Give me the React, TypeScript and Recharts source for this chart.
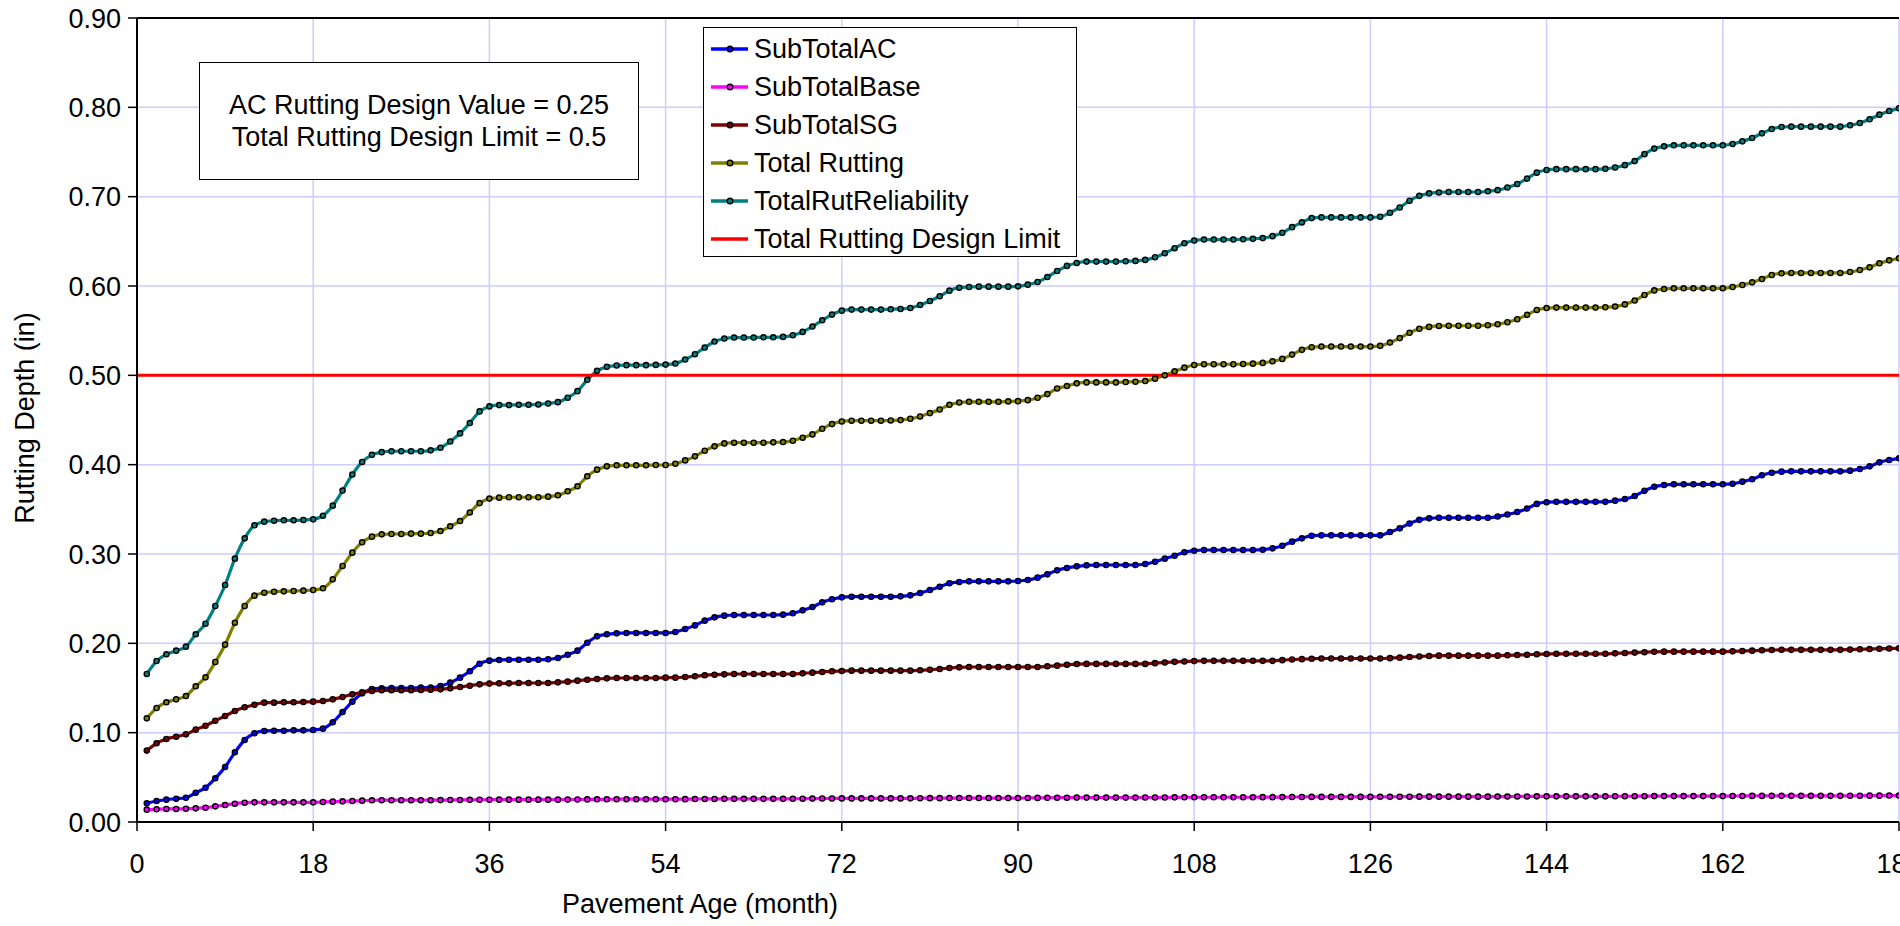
import { LineChart, Line, XAxis, YAxis, CartesianGrid, ReferenceLine } from 'recharts';

const FONT = '"Liberation Sans", Arial, Helvetica, sans-serif';

// pavement age in months (1..180), plus axis ticks
const months = Array.from({ length: 180 }, (_, i) => i + 1);
const xTicks = [0, 18, 36, 54, 72, 90, 108, 126, 144, 162, 180];
const yTicks = [0, 0.1, 0.2, 0.3, 0.4, 0.5, 0.6, 0.7, 0.8, 0.9];

const designLimit = 0.5;

// one row per year (12 months)
const subTotalAC = [
  0.0209, 0.0235, 0.025, 0.0261, 0.0272, 0.0328, 0.0384, 0.0489, 0.0616, 0.078, 0.0918, 0.0993,
  0.1019, 0.1022, 0.1022, 0.1026, 0.1026, 0.103, 0.1045, 0.1116, 0.1231, 0.1347, 0.144, 0.1489,
  0.1496, 0.15, 0.15, 0.15, 0.1504, 0.1504, 0.1522, 0.156, 0.1616, 0.1687, 0.1772, 0.1806,
  0.1813, 0.1817, 0.1817, 0.1817, 0.1817, 0.1821, 0.1836, 0.1873, 0.1918, 0.2007, 0.2078, 0.2101,
  0.2112, 0.2116, 0.2116, 0.2116, 0.2116, 0.2116, 0.2127, 0.216, 0.2201, 0.2254, 0.2291, 0.231,
  0.2317, 0.2317, 0.2317, 0.2317, 0.2317, 0.2321, 0.2336, 0.2369, 0.2407, 0.2459, 0.2493, 0.2515,
  0.2522, 0.2522, 0.2522, 0.2522, 0.2522, 0.2526, 0.2537, 0.2563, 0.2597, 0.2634, 0.2672, 0.2687,
  0.2694, 0.2694, 0.2694, 0.2694, 0.2694, 0.2698, 0.2709, 0.2735, 0.2772, 0.2817, 0.2844, 0.2862,
  0.2873, 0.2877, 0.2877, 0.2877, 0.2877, 0.2877, 0.2888, 0.2914, 0.2948, 0.2981, 0.3019, 0.3037,
  0.3045, 0.3045, 0.3045, 0.3045, 0.3045, 0.3045, 0.3048, 0.3063, 0.3093, 0.3138, 0.3175, 0.3205,
  0.3209, 0.3209, 0.3209, 0.3209, 0.3209, 0.3209, 0.3209, 0.3246, 0.3287, 0.3341, 0.3382, 0.3399,
  0.3406, 0.3406, 0.3406, 0.3406, 0.3406, 0.3406, 0.342, 0.3442, 0.347, 0.3509, 0.3561, 0.358,
  0.3584, 0.3584, 0.3584, 0.3584, 0.3584, 0.3584, 0.3597, 0.3615, 0.365, 0.3707, 0.3752, 0.3772,
  0.378, 0.378, 0.378, 0.378, 0.378, 0.378, 0.3787, 0.381, 0.3836, 0.3881, 0.391, 0.3922,
  0.3925, 0.3925, 0.3925, 0.3925, 0.3925, 0.3925, 0.3933, 0.3951, 0.3981, 0.4026, 0.4052, 0.4071,
];

const subTotalBase = [
  0.0138, 0.0142, 0.0146, 0.0146, 0.0149, 0.0153, 0.016, 0.0175, 0.019, 0.0205, 0.0216, 0.022,
  0.022, 0.022, 0.022, 0.022, 0.022, 0.022, 0.0224, 0.0228, 0.0231, 0.0235, 0.0239, 0.0243,
  0.0244, 0.0244, 0.0244, 0.0244, 0.0244, 0.0244, 0.0245, 0.0246, 0.0247, 0.0248, 0.0249, 0.0249,
  0.025, 0.025, 0.025, 0.025, 0.025, 0.025, 0.025, 0.0251, 0.0252, 0.0253, 0.0254, 0.0254,
  0.0255, 0.0255, 0.0255, 0.0255, 0.0255, 0.0255, 0.0255, 0.0256, 0.0257, 0.0258, 0.0258, 0.0259,
  0.0259, 0.0259, 0.0259, 0.0259, 0.0259, 0.0259, 0.026, 0.0261, 0.0262, 0.0263, 0.0263, 0.0264,
  0.0264, 0.0264, 0.0264, 0.0264, 0.0264, 0.0264, 0.0265, 0.0266, 0.0267, 0.0267, 0.0268, 0.0268,
  0.0268, 0.0268, 0.0268, 0.0268, 0.0268, 0.0268, 0.0269, 0.027, 0.0271, 0.0272, 0.0272, 0.0273,
  0.0273, 0.0273, 0.0273, 0.0273, 0.0273, 0.0273, 0.0274, 0.0274, 0.0275, 0.0276, 0.0277, 0.0277,
  0.0277, 0.0277, 0.0277, 0.0277, 0.0277, 0.0277, 0.0278, 0.0278, 0.0279, 0.028, 0.028, 0.0281,
  0.0281, 0.0281, 0.0281, 0.0281, 0.0281, 0.0281, 0.0282, 0.0282, 0.0283, 0.0283, 0.0284, 0.0284,
  0.0284, 0.0284, 0.0284, 0.0284, 0.0284, 0.0284, 0.0285, 0.0285, 0.0286, 0.0286, 0.0287, 0.0287,
  0.0287, 0.0287, 0.0287, 0.0287, 0.0287, 0.0287, 0.0288, 0.0288, 0.0289, 0.0289, 0.029, 0.029,
  0.029, 0.029, 0.029, 0.029, 0.029, 0.029, 0.0291, 0.0291, 0.0292, 0.0292, 0.0293, 0.0293,
  0.0293, 0.0293, 0.0293, 0.0293, 0.0293, 0.0293, 0.0294, 0.0294, 0.0295, 0.0295, 0.0296, 0.0296,
];

const subTotalSG = [
  0.0799, 0.0881, 0.0929, 0.0955, 0.0981, 0.1034, 0.1078, 0.1134, 0.1187, 0.1243, 0.1284, 0.1313,
  0.1336, 0.1336, 0.134, 0.134, 0.1343, 0.1347, 0.1354, 0.1373, 0.1399, 0.1429, 0.1451, 0.1466,
  0.1474, 0.1474, 0.1474, 0.1474, 0.1478, 0.1481, 0.1485, 0.1496, 0.1511, 0.1526, 0.1541, 0.1549,
  0.1552, 0.1552, 0.1556, 0.1556, 0.1556, 0.1556, 0.1563, 0.1571, 0.1582, 0.1593, 0.16, 0.1608,
  0.1612, 0.1612, 0.1612, 0.1612, 0.1612, 0.1616, 0.1616, 0.1623, 0.1631, 0.1642, 0.1649, 0.1653,
  0.1657, 0.1657, 0.1657, 0.1657, 0.1657, 0.1657, 0.1657, 0.1664, 0.1672, 0.1679, 0.1687, 0.169,
  0.1694, 0.1694, 0.1694, 0.1694, 0.1694, 0.1694, 0.1694, 0.1698, 0.1705, 0.1713, 0.1724, 0.1731,
  0.1735, 0.1735, 0.1735, 0.1735, 0.1735, 0.1735, 0.1735, 0.1735, 0.1743, 0.175, 0.176, 0.1768,
  0.177, 0.177, 0.177, 0.177, 0.177, 0.177, 0.177, 0.1778, 0.1786, 0.1793, 0.1797, 0.1801,
  0.1804, 0.1804, 0.1804, 0.1804, 0.1804, 0.1804, 0.1804, 0.1804, 0.1812, 0.1819, 0.1823, 0.1827,
  0.183, 0.183, 0.183, 0.183, 0.183, 0.183, 0.183, 0.1834, 0.184, 0.1847, 0.1853, 0.1858,
  0.1862, 0.1862, 0.1862, 0.1862, 0.1862, 0.1862, 0.1862, 0.1866, 0.1869, 0.1872, 0.1877, 0.1881,
  0.1883, 0.1883, 0.1883, 0.1883, 0.1883, 0.1883, 0.1888, 0.1892, 0.1896, 0.1901, 0.1905, 0.1907,
  0.1907, 0.1907, 0.1907, 0.1907, 0.1907, 0.1907, 0.191, 0.1914, 0.1918, 0.1922, 0.1925, 0.1927,
  0.1927, 0.1927, 0.1927, 0.1927, 0.1927, 0.1927, 0.193, 0.1933, 0.1936, 0.194, 0.1942, 0.1944,
];

const totalRutting = [
  0.116, 0.1276, 0.134, 0.1373, 0.141, 0.1519, 0.1619, 0.1791, 0.1985, 0.2231, 0.2418, 0.2534,
  0.2567, 0.2578, 0.2582, 0.2586, 0.259, 0.2597, 0.2616, 0.2716, 0.2866, 0.3015, 0.3131, 0.3194,
  0.322, 0.3224, 0.3224, 0.3228, 0.3228, 0.3235, 0.3257, 0.331, 0.3369, 0.3465, 0.357, 0.362,
  0.3631, 0.3635, 0.3635, 0.3635, 0.3635, 0.3642, 0.3657, 0.3702, 0.3758, 0.387, 0.3944, 0.3981,
  0.3993, 0.3993, 0.3993, 0.3993, 0.3996, 0.3996, 0.4011, 0.4048, 0.4093, 0.4156, 0.4205, 0.4238,
  0.4246, 0.4246, 0.4246, 0.4246, 0.425, 0.4253, 0.4268, 0.4302, 0.4339, 0.4402, 0.4454, 0.4484,
  0.4492, 0.4492, 0.4492, 0.4492, 0.4495, 0.4499, 0.4514, 0.454, 0.4577, 0.4618, 0.467, 0.4696,
  0.4704, 0.4704, 0.4704, 0.4704, 0.4708, 0.4711, 0.4722, 0.4749, 0.479, 0.4853, 0.488, 0.491,
  0.4921, 0.4921, 0.4921, 0.4921, 0.4925, 0.4929, 0.4936, 0.4963, 0.5, 0.5045, 0.5086, 0.5116,
  0.5124, 0.5124, 0.5124, 0.5124, 0.5127, 0.5131, 0.5139, 0.5157, 0.5184, 0.5232, 0.5285, 0.5315,
  0.5322, 0.5322, 0.5322, 0.5322, 0.5322, 0.5322, 0.533, 0.5367, 0.5417, 0.5476, 0.5521, 0.5542,
  0.5553, 0.5555, 0.5555, 0.5555, 0.5555, 0.5561, 0.5572, 0.5594, 0.5628, 0.5677, 0.5732, 0.5753,
  0.5758, 0.5758, 0.5758, 0.5758, 0.5758, 0.5762, 0.577, 0.5794, 0.5837, 0.5899, 0.5951, 0.5966,
  0.5974, 0.5974, 0.5974, 0.5974, 0.5974, 0.5974, 0.5989, 0.6011, 0.6041, 0.6078, 0.6123, 0.6142,
  0.6146, 0.6146, 0.6146, 0.6146, 0.6146, 0.6146, 0.6157, 0.6179, 0.6209, 0.6254, 0.6287, 0.631,
];

const totalRutReliability = [
  0.1657, 0.1802, 0.1877, 0.1918, 0.1963, 0.2101, 0.222, 0.2418, 0.2653, 0.2948, 0.3175, 0.3321,
  0.3362, 0.3373, 0.3377, 0.3377, 0.3381, 0.3388, 0.3429, 0.3541, 0.371, 0.389, 0.403, 0.411,
  0.414, 0.415, 0.415, 0.415, 0.415, 0.416, 0.419, 0.426, 0.435, 0.4466, 0.4596, 0.4652,
  0.4667, 0.4667, 0.467, 0.467, 0.4674, 0.4685, 0.47, 0.4749, 0.4823, 0.495, 0.505, 0.5095,
  0.511, 0.5114, 0.5114, 0.5114, 0.5117, 0.512, 0.5132, 0.5177, 0.5236, 0.5311, 0.5378, 0.5412,
  0.5423, 0.5423, 0.5423, 0.5426, 0.5426, 0.543, 0.5449, 0.5486, 0.5546, 0.5616, 0.568, 0.5724,
  0.5736, 0.5736, 0.5736, 0.5736, 0.574, 0.5743, 0.5754, 0.5788, 0.5832, 0.5885, 0.5948, 0.5981,
  0.5989, 0.5993, 0.5993, 0.5993, 0.5993, 0.5996, 0.6015, 0.6045, 0.61, 0.6168, 0.6225, 0.6258,
  0.6273, 0.6273, 0.6273, 0.6273, 0.6277, 0.6281, 0.6292, 0.6322, 0.6367, 0.6423, 0.6479, 0.6509,
  0.652, 0.652, 0.652, 0.652, 0.6524, 0.6528, 0.6536, 0.6558, 0.6596, 0.6659, 0.6712, 0.676,
  0.6768, 0.6768, 0.6768, 0.6768, 0.6768, 0.6768, 0.6775, 0.682, 0.6879, 0.6955, 0.7009, 0.7037,
  0.7047, 0.7052, 0.7052, 0.7052, 0.7052, 0.706, 0.7073, 0.7103, 0.7142, 0.7202, 0.7269, 0.7299,
  0.7308, 0.7308, 0.7308, 0.7308, 0.7308, 0.7312, 0.7327, 0.7353, 0.7398, 0.7476, 0.7538, 0.7563,
  0.7575, 0.7575, 0.7575, 0.7575, 0.7575, 0.7575, 0.759, 0.7619, 0.7657, 0.7709, 0.7757, 0.778,
  0.7784, 0.7784, 0.7784, 0.7784, 0.7784, 0.7784, 0.7799, 0.7825, 0.7866, 0.7918, 0.7959, 0.7989,
];

const series = [
  { key: 'ac', name: 'SubTotalAC', color: '#0000ff', values: subTotalAC },
  { key: 'base', name: 'SubTotalBase', color: '#ff00ff', values: subTotalBase },
  { key: 'sg', name: 'SubTotalSG', color: '#800000', values: subTotalSG },
  { key: 'total', name: 'Total Rutting', color: '#808000', values: totalRutting },
  { key: 'rel', name: 'TotalRutReliability', color: '#008080', values: totalRutReliability },
];

// the limit row at month 0 lets the red line start at the axis
const rows: Record<string, number>[] = [
  { month: 0, limit: designLimit },
  ...months.map((m, i) => {
    const row: Record<string, number> = { month: m, limit: designLimit };
    series.forEach(s => {
      row[s.key] = s.values[i];
    });
    return row;
  }),
];

const tickStyle = { fontSize: 27, fill: '#000', fontFamily: FONT };

const XTitle = () => (
  <text x={700} y={904} textAnchor="middle" dominantBaseline="central" fontSize={27} fontFamily={FONT} fill="#000">
    Pavement Age (month)
  </text>
);

const YTitle = () => (
  <text
    x={25}
    y={418}
    transform="rotate(-90 25 418)"
    textAnchor="middle"
    dominantBaseline="central"
    fontSize={27}
    fontFamily={FONT}
    fill="#000"
  >
    Rutting Depth (in)
  </text>
);

function LegendBox() {
  const items = [
    ...series.map(s => ({ name: s.name, color: s.color, marker: true })),
    { name: 'Total Rutting Design Limit', color: '#ff0000', marker: false },
  ];
  return (
    <div
      style={{
        position: 'absolute',
        left: 703,
        top: 27,
        width: 372,
        height: 226,
        border: '1.5px solid #000',
        background: '#fff',
        paddingTop: 2,
        boxSizing: 'content-box',
      }}
    >
      {items.map(it => (
        <div key={it.name} style={{ height: 38, display: 'flex', alignItems: 'center' }}>
          <svg width={50} height={38} style={{ flex: 'none' }}>
            <line x1={7} x2={44} y1={19} y2={19} stroke={it.color} strokeWidth={3.5} />
            {it.marker && <circle cx={26} cy={19} r={2.8} fill={it.color} stroke="#000" strokeWidth={1.4} />}
          </svg>
          <span style={{ fontSize: 27, fontFamily: FONT, color: '#000', whiteSpace: 'nowrap' }}>{it.name}</span>
        </div>
      ))}
    </div>
  );
}

function NoteBox() {
  return (
    <div
      style={{
        position: 'absolute',
        left: 199,
        top: 62,
        width: 438,
        height: 116,
        border: '1.5px solid #000',
        background: '#fff',
        display: 'flex',
        flexDirection: 'column',
        justifyContent: 'center',
        alignItems: 'center',
        fontSize: 27,
        lineHeight: '32px',
        fontFamily: FONT,
        color: '#000',
      }}
    >
      <div>AC Rutting Design Value = 0.25</div>
      <div>Total Rutting Design Limit = 0.5</div>
    </div>
  );
}

export default function App() {
  return (
    <div
      style={{
        position: 'absolute',
        left: 0,
        top: 0,
        width: 1900,
        height: 926,
        overflow: 'hidden',
        background: '#fff',
      }}
    >
      <LineChart width={1900} height={926} data={rows} margin={{ top: 18, right: 1, bottom: 0, left: 0 }}>
        <CartesianGrid stroke="#ccccff" strokeWidth={1.5} />
        <XAxis
          dataKey="month"
          type="number"
          domain={[0, 180]}
          ticks={xTicks}
          interval={0}
          allowDataOverflow
          height={104}
          tickSize={9}
          tickMargin={23}
          axisLine={{ stroke: '#000', strokeWidth: 2 }}
          tickLine={{ stroke: '#000', strokeWidth: 1.5 }}
          tick={tickStyle}
          label={<XTitle />}
        />
        <YAxis
          type="number"
          domain={[0, 0.9]}
          ticks={yTicks}
          interval={0}
          allowDataOverflow
          width={137}
          tickSize={9}
          tickMargin={7}
          tickFormatter={(v: number) => v.toFixed(2)}
          axisLine={{ stroke: '#000', strokeWidth: 2 }}
          tickLine={{ stroke: '#000', strokeWidth: 1.5 }}
          tick={tickStyle}
          label={<YTitle />}
        />
        <ReferenceLine y={0.9} stroke="#000" strokeWidth={2} />
        {series.map(s => (
          <Line
            key={s.key}
            dataKey={s.key}
            name={s.name}
            type="monotone"
            stroke={s.color}
            strokeWidth={3.2}
            dot={{ r: 2.6, fill: s.color, stroke: '#000', strokeWidth: 1.4 }}
            activeDot={false}
            isAnimationActive={false}
          />
        ))}
        <Line
          dataKey="limit"
          name="Total Rutting Design Limit"
          type="linear"
          stroke="#ff0000"
          strokeWidth={3}
          dot={false}
          activeDot={false}
          isAnimationActive={false}
        />
      </LineChart>
      <NoteBox />
      <LegendBox />
    </div>
  );
}
